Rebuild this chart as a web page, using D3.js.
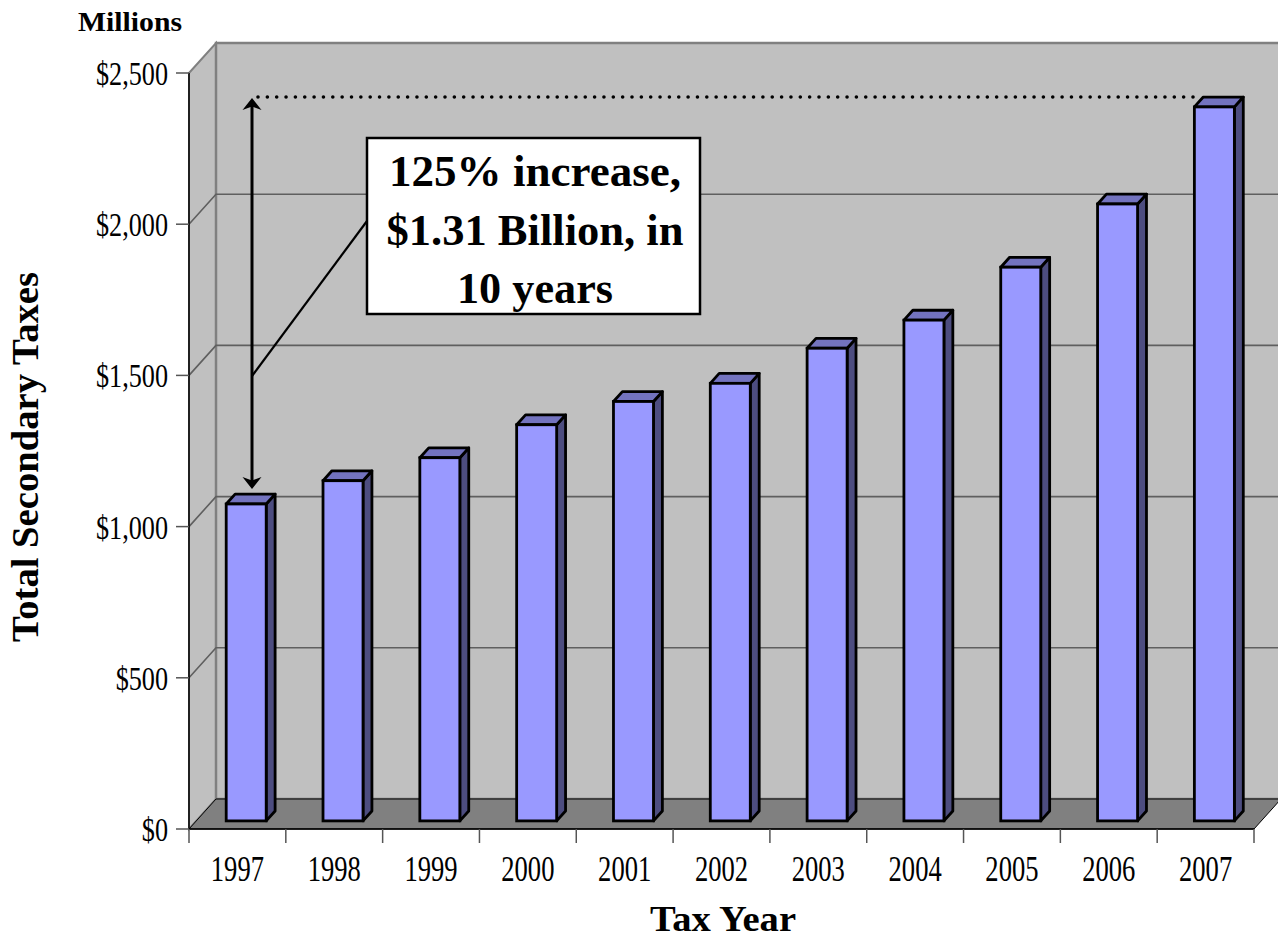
<!DOCTYPE html>
<html>
<head>
  <meta charset="UTF-8">
  <style>
    body { margin: 0; background: #fff; }
    text { font-family: "Liberation Serif", "Times New Roman", serif; fill: #000; }
  </style>
</head>
<body>
<svg></svg>
<script src="https://d3js.org/d3.v7.min.js"></script>
<script>

let width = 1278, height = 942;

// data (millions of dollars)
const years = ["1997", "1998", "1999", "2000", "2001", "2002", "2003", "2004", "2005", "2006", "2007"];
const taxes = [1048, 1125, 1201, 1310, 1387, 1447, 1563, 1656, 1831, 2040, 2361];
const yTicks = [0, 500, 1000, 1500, 2000, 2500];
const noteLines = ["125% increase,", "$1.31 Billion, in", "10 years"];

let svg = d3.select("svg")
    .attr("width", width)
    .attr("height", height)

// front plane scales
var x = d3.scaleBand().domain(years).range([189, 1254]);
var y = d3.scaleLinear().domain([0, 2500]).range([829, 73]);

// depth offset of the 3d box (z from 0 = front to 1 = back wall)
let depthX = 27, depthY = -30;
function px(xv, z) { return xv + depthX * z; }
function py(v, z) { return y(v) + depthY * z; }

let x0 = x.range()[0], x1 = x.range()[1];
let money = d3.format("$,");

// side wall
svg.append("polygon")
    .attr("points", [[x0, y(2500)], [px(x0, 1), py(2500, 1)], [px(x0, 1), py(0, 1)], [x0, y(0)]].join(" "))
    .attr("fill", "#c0c0c0")
    .attr("stroke", "#808080")
    .attr("stroke-width", 2)

// back wall
svg.append("rect")
    .attr("x", px(x0, 1))
    .attr("y", py(2500, 1))
    .attr("width", width)
    .attr("height", py(0, 1) - py(2500, 1))
    .attr("fill", "#c0c0c0")
    .attr("stroke", "#808080")
    .attr("stroke-width", 2.5)

// gridlines on back and side wall
svg.append("g")
    .selectAll("path")
    .data(yTicks.filter(d => d > 0 && d < 2500))
    .enter()
    .append("path")
    .attr("d", d => "M" + x0 + "," + y(d) + "L" + px(x0, 1) + "," + py(d, 1) + "L" + (width + 5) + "," + py(d, 1))
    .attr("fill", "none")
    .attr("stroke", "#5f5f5f")
    .attr("stroke-width", 1.6)

// floor
svg.append("polygon")
    .attr("points", [[x0, y(0)], [px(x0, 1), py(0, 1)], [px(x1, 1), py(0, 1)], [x1, y(0)]].join(" "))
    .attr("fill", "#808080")
    .attr("stroke", "#000")
    .attr("stroke-width", 1)

// bars
let z0 = 0.27, z1 = 0.6, barW = 40;
let bars = svg.append("g").selectAll("g")
    .data(years.map((d, i) => ({year: d, value: taxes[i]})))
    .enter()
    .append("g")

function barLeft(d) { return x(d.year) + (x.bandwidth() - barW) / 2 + 1.5; }

// side face
bars.append("polygon")
    .attr("points", d => {
        let r = barLeft(d) + barW;
        return [[px(r, z0), py(0, z0)], [px(r, z1), py(0, z1)], [px(r, z1), py(d.value, z1)], [px(r, z0), py(d.value, z0)]].join(" ");
    })
    .attr("fill", "#4d4d80")
    .attr("stroke", "#000")
    .attr("stroke-width", 2.8)
    .attr("stroke-linejoin", "round")

// top face
bars.append("polygon")
    .attr("points", d => {
        let l = barLeft(d), r = l + barW;
        return [[px(l, z0), py(d.value, z0)], [px(l, z1), py(d.value, z1)], [px(r, z1), py(d.value, z1)], [px(r, z0), py(d.value, z0)]].join(" ");
    })
    .attr("fill", "#7373bf")
    .attr("stroke", "#000")
    .attr("stroke-width", 2.8)
    .attr("stroke-linejoin", "round")

// front face
bars.append("rect")
    .attr("x", d => px(barLeft(d), z0))
    .attr("y", d => py(d.value, z0))
    .attr("width", barW)
    .attr("height", d => py(0, z0) - py(d.value, z0))
    .attr("fill", "#9999ff")
    .attr("stroke", "#000")
    .attr("stroke-width", 2.8)

// y axis
svg.append("line")
    .attr("x1", x0).attr("x2", x0)
    .attr("y1", y(2500)).attr("y2", y(0))
    .attr("stroke", "#000")
    .attr("stroke-width", 1.5)

let yt = svg.append("g").selectAll("g")
    .data(yTicks)
    .enter()
    .append("g")

yt.append("line")
    .attr("x1", x0 - 13).attr("x2", x0)
    .attr("y1", d => y(d)).attr("y2", d => y(d))
    .attr("stroke", "#555")
    .attr("stroke-width", 1.5)

yt.append("text")
    .attr("transform", d => "translate(" + 168 + "," + (y(d) + 12) + ") scale(0.77,1)")
    .attr("text-anchor", "end")
    .style("font-size", "34px")
    .text(d => money(d))

// x axis
svg.append("line")
    .attr("x1", x0).attr("x2", x1)
    .attr("y1", y(0)).attr("y2", y(0))
    .attr("stroke", "#000")
    .attr("stroke-width", 1.5)

svg.append("g").selectAll("line")
    .data(years.concat(["end"]))
    .enter()
    .append("line")
    .attr("x1", (d, i) => x0 + i * x.step())
    .attr("x2", (d, i) => x0 + i * x.step())
    .attr("y1", y(0))
    .attr("y2", y(0) + 14)
    .attr("stroke", "#555")
    .attr("stroke-width", 1.5)

svg.append("g").selectAll("text")
    .data(years)
    .enter()
    .append("text")
    .attr("transform", d => "translate(" + (x(d) + x.bandwidth() / 2) + "," + 881 + ") scale(0.76,1)")
    .attr("text-anchor", "middle")
    .style("font-size", "35px")
    .text(d => d)

// axis titles
svg.append("text")
    .attr("x", 130).attr("y", 31)
    .attr("text-anchor", "middle")
    .attr("textLength", 104)
    .attr("lengthAdjust", "spacingAndGlyphs")
    .style("font-size", "28px")
    .style("font-weight", "bold")
    .text("Millions")

svg.append("text")
    .attr("transform", "translate(38,457) rotate(-90)")
    .attr("text-anchor", "middle")
    .attr("textLength", 370)
    .attr("lengthAdjust", "spacingAndGlyphs")
    .style("font-size", "37px")
    .style("font-weight", "bold")
    .text("Total Secondary Taxes")

svg.append("text")
    .attr("x", 723).attr("y", 931)
    .attr("text-anchor", "middle")
    .attr("textLength", 146)
    .attr("lengthAdjust", "spacingAndGlyphs")
    .style("font-size", "36px")
    .style("font-weight", "bold")
    .text("Tax Year")

// annotation: dotted line at the 2007 level and double arrow down to 1997
let lastTop = py(taxes[taxes.length - 1], z1);
let firstTop = py(taxes[0], z1);
let arrowX = 252;

svg.append("line")
    .attr("x1", arrowX + 6).attr("x2", px(barLeft({year: years[years.length - 1]}), z1) - 4)
    .attr("y1", lastTop).attr("y2", lastTop)
    .attr("stroke", "#000")
    .attr("stroke-width", 3.6)
    .attr("stroke-linecap", "round")
    .attr("stroke-dasharray", "0 9.35")

let aTop = lastTop + 1, aBot = firstTop - 5;
svg.append("line")
    .attr("x1", arrowX).attr("x2", arrowX)
    .attr("y1", aTop + 8).attr("y2", aBot - 8)
    .attr("stroke", "#000")
    .attr("stroke-width", 3)

svg.append("path")
    .attr("d", "M" + arrowX + "," + aTop + "l-9.5,12l9.5,-3.5l9.5,3.5z")
    .attr("fill", "#000")
svg.append("path")
    .attr("d", "M" + arrowX + "," + aBot + "l-9.5,-12l9.5,3.5l9.5,-3.5z")
    .attr("fill", "#000")

svg.append("line")
    .attr("x1", 367).attr("y1", 221)
    .attr("x2", arrowX).attr("y2", 376)
    .attr("stroke", "#000")
    .attr("stroke-width", 2.2)

svg.append("rect")
    .attr("x", 367).attr("y", 138)
    .attr("width", 333).attr("height", 176)
    .attr("fill", "#fff")
    .attr("stroke", "#000")
    .attr("stroke-width", 2.5)

let noteWidths = [292, 297, 156];
svg.append("g").selectAll("text")
    .data(noteLines)
    .enter()
    .append("text")
    .attr("x", 535)
    .attr("y", (d, i) => 186 + i * 58.5)
    .attr("text-anchor", "middle")
    .attr("textLength", (d, i) => noteWidths[i])
    .attr("lengthAdjust", "spacingAndGlyphs")
    .style("font-size", "45px")
    .style("font-weight", "bold")
    .text(d => d)

</script>

</body>
</html>
